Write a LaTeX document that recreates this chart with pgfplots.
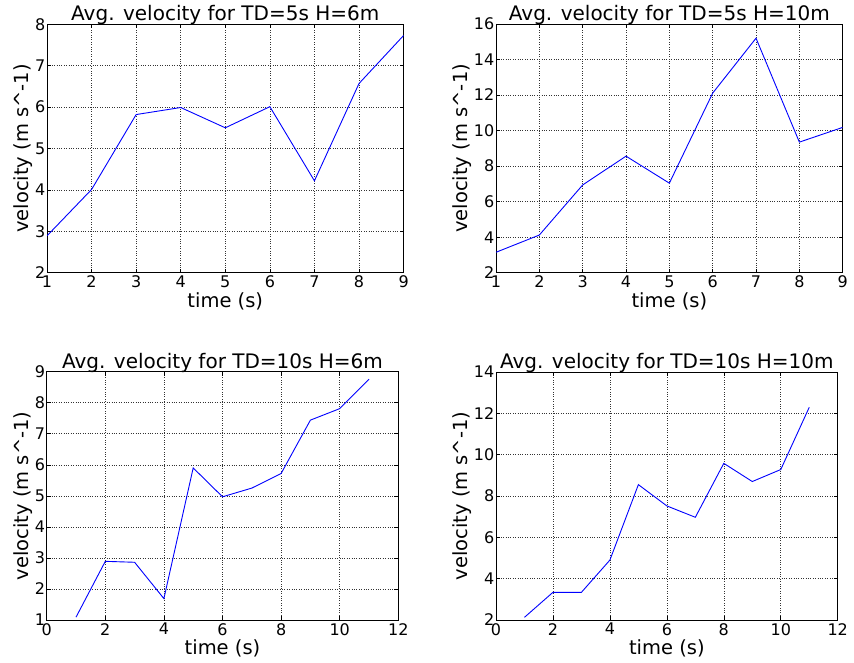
\documentclass[border=0pt]{standalone}
\usepackage{fontspec}
\setmainfont{DejaVu Sans}
\usepackage{pgfplots}
\pgfplotsset{compat=1.18}

\pgfplotsset{vel/.style={
    scale only axis,
    grid=major,
    major grid style={dotted, black!80, line width=0.6pt},
    axis line style={black, line width=0.8pt},
    tick align=inside,
    major tick length=4pt,
    tick style={black, line width=0.6pt},
    /pgf/number format/assume math mode=true,
    ticklabel style={font=\fontsize{16}{16}\selectfont},
    xticklabel style={inner sep=1pt, yshift=-2pt},
    yticklabel style={inner sep=1.5pt},
    label style={font=\fontsize{19.5}{19.5}\selectfont},
    xlabel style={inner sep=3pt},
    ylabel style={inner sep=1pt},
    every axis title shift=0pt,
    title style={font=\fontsize{20}{20}\selectfont, at={(0.5,1)}, anchor=base, inner sep=0pt, yshift=3.5pt},
    xlabel={time (s)},
    ylabel={velocity (m s\textasciicircum-1)},
}}

\begin{document}
\begin{tikzpicture}
\useasboundingbox (0,0) rectangle (854pt,662pt);

% TD=5s H=6m
\begin{axis}[vel, at={(47pt,389.3pt)}, anchor=south west,
    width=356.6pt, height=248.4pt,
    xmin=1, xmax=9, ymin=2, ymax=8,
    title={Avg. velocity for TD=5s H=6m}]
\addplot[blue, line width=0.9pt] coordinates {
    (1,2.89) (2,4.01) (3,5.82) (4,5.99) (5,5.50)
    (6,6.01) (7,4.22) (8,6.57) (9,7.73)
};
\end{axis}

% TD=5s H=10m
\begin{axis}[vel, at={(496pt,389.3pt)}, anchor=south west,
    width=346.7pt, height=248.7pt,
    xmin=1, xmax=9, ymin=2, ymax=16,
    title={Avg. velocity for TD=5s H=10m}]
\addplot[blue, line width=0.9pt] coordinates {
    (1,3.15) (2,4.12) (3,6.94) (4,8.56) (5,7.04)
    (6,12.11) (7,15.2) (8,9.35) (9,10.18)
};
\end{axis}

% TD=10s H=6m
\begin{axis}[vel, at={(46.7pt,42pt)}, anchor=south west,
    width=351.6pt, height=248.3pt,
    xmin=0, xmax=12, ymin=1, ymax=9, xtick distance=2,
    title={Avg. velocity for TD=10s H=6m}]
\addplot[blue, line width=0.9pt] coordinates {
    (1,1.09) (2,2.89) (3,2.86) (4,1.69) (5,5.90) (6,4.97)
    (7,5.25) (8,5.72) (9,7.44) (10,7.81) (11,8.76)
};
\end{axis}

% TD=10s H=10m
\begin{axis}[vel, at={(496pt,42pt)}, anchor=south west,
    width=341.7pt, height=248pt,
    xmin=0, xmax=12, ymin=2, ymax=14, xtick distance=2,
    title={Avg. velocity for TD=10s H=10m}]
\addplot[blue, line width=0.9pt] coordinates {
    (1,2.13) (2,3.34) (3,3.34) (4,4.90) (5,8.55) (6,7.52)
    (7,6.97) (8,9.58) (9,8.70) (10,9.28) (11,12.29)
};
\end{axis}
\end{tikzpicture}
\end{document}
